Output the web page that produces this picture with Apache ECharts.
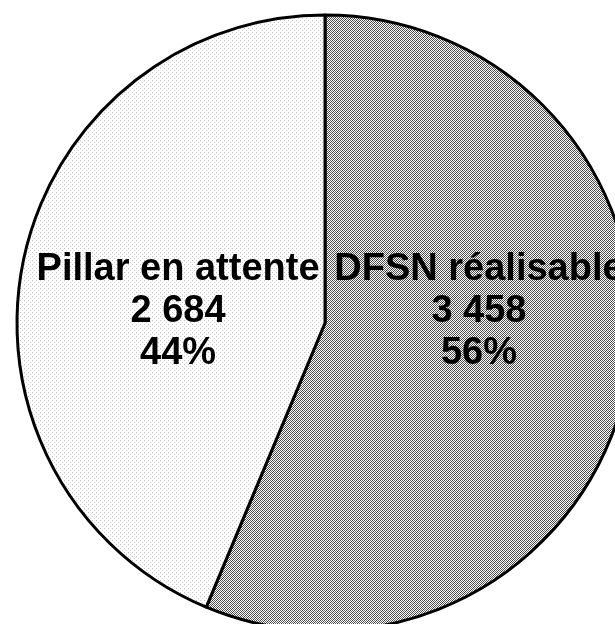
<!DOCTYPE html>
<html>
<head>
<meta charset="utf-8">
<script src="https://cdn.jsdelivr.net/npm/echarts@6/dist/echarts.min.js"></script>
<style>
  html, body { margin: 0; padding: 0; background: #fff; }
  #main { width: 615px; height: 624px; }
</style>
</head>
<body>
<div id="main"></div>
<script>
var categories = ['DFSN réalisable', 'Pillar en attente'];
var values = [3458, 2684];

// petits motifs tramés façon Excel
function makePattern(dots, bg) {
  var c = document.createElement('canvas');
  c.width = 4;
  c.height = 4;
  var ctx = c.getContext('2d');
  ctx.fillStyle = bg;
  ctx.fillRect(0, 0, 4, 4);
  dots.forEach(function (d) {
    ctx.fillStyle = d[2];
    ctx.fillRect(d[0], d[1], 1, 1);
  });
  return c;
}

var darkPattern = makePattern([
  [0, 0, '#404040'], [2, 0, '#666666'], [1, 1, '#666666'], [3, 1, '#404040'],
  [0, 2, '#666666'], [2, 2, '#404040'], [1, 3, '#404040'], [3, 3, '#666666']
], '#ffffff');
var lightPattern = makePattern([
  [0, 0, '#c0c0c0'], [2, 2, '#d0d0d0']
], '#ffffff');

function fmtNum(n) {
  return String(n).replace(/\B(?=(\d{3})+(?!\d))/g, ' ');
}

var chart = echarts.init(document.getElementById('main'));

var option = {
  animation: false,
  series: [{
    type: 'pie',
    center: [325, 323],
    radius: 308,
    startAngle: 90,
    clockwise: true,
    percentPrecision: 0,
    itemStyle: {
      borderColor: '#000',
      borderWidth: 3
    },
    label: {
      show: true,
      position: 'inside',
      color: '#000',
      fontFamily: 'Arial, "Liberation Sans", sans-serif',
      fontWeight: 'bold',
      fontSize: 38,
      lineHeight: 42,
      align: 'center',
      formatter: function (p) {
        return p.name + '\n' + fmtNum(p.value) + '\n' + p.percent + '%';
      }
    },
    emphasis: { disabled: true },
    data: [
      {
        name: categories[0], value: values[0],
        itemStyle: { color: { image: darkPattern, repeat: 'repeat' } },
        label: { offset: [0, -42] }
      },
      {
        name: categories[1], value: values[1],
        itemStyle: { color: { image: lightPattern, repeat: 'repeat' } },
        label: { offset: [7, 19] }
      }
    ]
  }]
};

chart.setOption(option);
</script>
</body>
</html>
